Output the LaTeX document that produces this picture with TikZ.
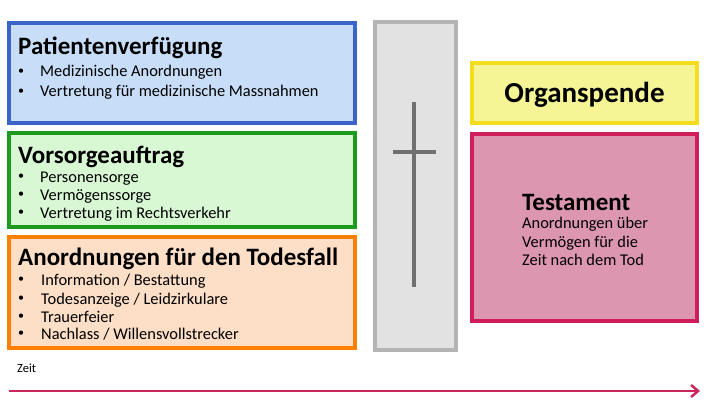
\documentclass[tikz,border=0pt]{standalone}
\usepackage{fontspec}
\setmainfont{Carlito}
\usetikzlibrary{arrows.meta}
\definecolor{blueB}{HTML}{3A64C8}
\definecolor{blueF}{HTML}{C8DEF8}
\definecolor{greenB}{HTML}{1E9B1E}
\definecolor{greenF}{HTML}{D8F8D4}
\definecolor{orangeB}{HTML}{FF8000}
\definecolor{orangeF}{HTML}{FDDEC6}
\definecolor{grayB}{HTML}{B4B4B4}
\definecolor{grayF}{HTML}{E2E2E2}
\definecolor{crossC}{HTML}{707070}
\definecolor{yellowB}{HTML}{F5DC1E}
\definecolor{yellowF}{HTML}{F5F596}
\definecolor{pinkB}{HTML}{D01E5A}
\definecolor{pinkF}{HTML}{DC96B0}
\definecolor{arrowC}{HTML}{C8285A}
\tikzset{
  box/.style={line width=3.5pt},
  ttl/.style={anchor=base west, font=\bfseries\fontsize{25}{27}\selectfont, inner sep=0pt},
  itm/.style={anchor=base west, font=\fontsize{16.4}{18}\selectfont, inner sep=0pt},
  bul/.style={anchor=center, font=\fontsize{12}{14}\selectfont, inner sep=0pt},
}
\begin{document}
\begin{tikzpicture}[x=1pt,y=-1pt]
\useasboundingbox (0,0) rectangle (709,409);
% boxes
\draw[box, draw=blueB, fill=blueF] (9,23) rectangle (355,123);
\draw[box, draw=greenB, fill=greenF] (9,133) rectangle (355,227);
\draw[box, draw=orangeB, fill=orangeF] (9,237) rectangle (355,348);
\draw[box, draw=grayB, fill=grayF] (375,22) rectangle (456,350);
\draw[box, draw=yellowB, fill=yellowF] (472,63) rectangle (697,123);
\draw[box, draw=pinkB, fill=pinkF] (472,134) rectangle (697,321);
% cross
\coordinate (ct) at (414,102);
\coordinate (cb) at (414,287);
\coordinate (cl) at (393,152);
\coordinate (cr) at (436,152);
\draw[crossC, line width=4pt] (ct) -- (cb);
\draw[crossC, line width=4pt] (cl) -- (cr);
% Patientenverfuegung
\node[ttl] (t1) at (18,55) {Patientenverfügung};
\node[bul] (b11) at (21,72) {•};
\node[itm] (i11) at (40,77) {Medizinische Anordnungen};
\node[bul] (b12) at (21,92) {•};
\node[itm] (i12) at (40,97) {Vertretung für medizinische Massnahmen};
% Vorsorgeauftrag
\node[ttl] (t2) at (18,163) {Vorsorgeauftrag};
\node[bul] (b21) at (21,177) {•};
\node[itm] (i21) at (40,182) {Personensorge};
\node[bul] (b22) at (21,195) {•};
\node[itm] (i22) at (40,200) {Vermögenssorge};
\node[bul] (b23) at (21,213) {•};
\node[itm] (i23) at (40,218) {Vertretung im Rechtsverkehr};
% Todesfall
\node[ttl] (t3) at (18,265) {Anordnungen für den Todesfall};
\node[bul] (b31) at (21,280) {•};
\node[itm] (i31) at (41,285) {Information / Bestattung};
\node[bul] (b32) at (21,299) {•};
\node[itm] (i32) at (41,304) {Todesanzeige / Leidzirkulare};
\node[bul] (b33) at (21,317) {•};
\node[itm] (i33) at (41,322) {Trauerfeier};
\node[bul] (b34) at (21,334) {•};
\node[itm] (i34) at (41,339) {Nachlass / Willensvollstrecker};
% Organspende
\node[anchor=base, font=\bfseries\fontsize{29}{31}\selectfont, inner sep=0pt] (org) at (584.5,103) {Organspende};
% Testament
\node[ttl] (tt) at (522,210) {Testament};
\node[itm] (tt1) at (522,228) {Anordnungen über};
\node[itm] (tt2) at (522,247) {Vermögen für die};
\node[itm] (tt3) at (522,265) {Zeit nach dem Tod};
% Zeit arrow
\node[anchor=base west, font=\fontsize{12.5}{14}\selectfont, inner sep=0pt] (zeit) at (17,372) {Zeit};
\coordinate (as) at (9,391);
\coordinate (ae) at (700,391);
\draw[arrowC, line width=2.5pt, -{Straight Barb[length=7pt,width=12pt]}] (as) -- (ae);
\end{tikzpicture}
\end{document}
